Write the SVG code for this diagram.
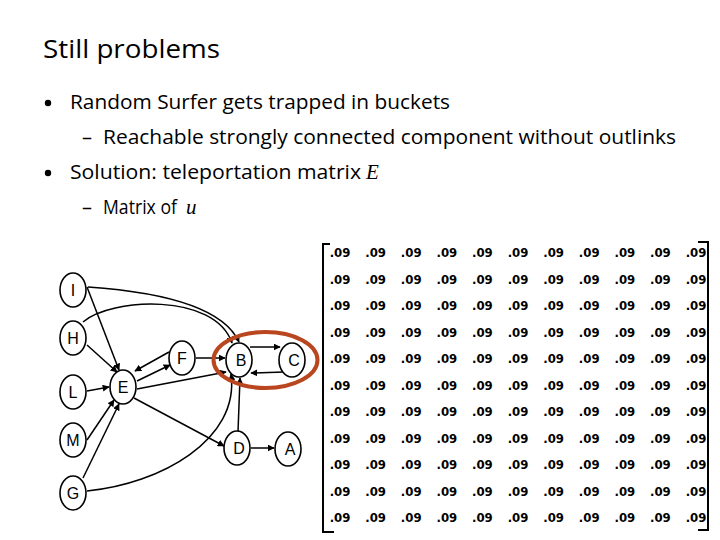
<svg xmlns="http://www.w3.org/2000/svg" xmlns:xlink="http://www.w3.org/1999/xlink" width="720" height="540" viewBox="0 0 720 540">
<style>
.title{font-family:"Open Sans","Liberation Sans",sans-serif;font-size:26px;fill:#000}
.body{font-family:"Open Sans","Liberation Sans",sans-serif;font-size:20px;fill:#000}
.math{font-family:"Liberation Serif",serif;font-style:italic;font-size:21px}
.node ellipse{fill:#fff;stroke:#000;stroke-width:1.6}
.node text{font-family:"Liberation Sans",Arial,sans-serif;font-size:16px;text-anchor:middle;fill:#000}
.edges path{fill:none;stroke:#000;stroke-width:1.5;marker-end:url(#arr)}
.m{font-family:"DejaVu Sans Condensed","DejaVu Sans",sans-serif;font-weight:bold;font-size:13px;text-anchor:middle;fill:#000}
.br{fill:none;stroke:#000;stroke-width:2}
</style>
<defs>
<marker id="arr" viewBox="0 0 10 10" refX="9" refY="5" markerWidth="7" markerHeight="7" markerUnits="userSpaceOnUse" orient="auto">
<path d="M0,0 L10,5 L0,10 z" fill="#000"/>
</marker>
<g id="row">
<text class="m" x="340">.09</text><text class="m" x="375.6">.09</text><text class="m" x="411.2">.09</text><text class="m" x="446.8">.09</text><text class="m" x="482.4">.09</text><text class="m" x="518">.09</text><text class="m" x="553.6">.09</text><text class="m" x="589.2">.09</text><text class="m" x="624.8">.09</text><text class="m" x="660.4">.09</text><text class="m" x="696">.09</text>
</g>
</defs>
<rect width="720" height="540" fill="#fff"/>
<text class="title" x="43" y="58" textLength="177" lengthAdjust="spacingAndGlyphs">Still problems</text>
<circle cx="48" cy="103" r="3.2" fill="#000"/>
<text class="body" x="70" y="109" textLength="380" lengthAdjust="spacingAndGlyphs">Random Surfer gets trapped in buckets</text>
<text class="body" x="82" y="144">–</text>
<text class="body" x="103" y="144" textLength="573" lengthAdjust="spacingAndGlyphs">Reachable strongly connected component without outlinks</text>
<circle cx="48" cy="173" r="3.2" fill="#000"/>
<text class="body" x="70" y="179" textLength="291" lengthAdjust="spacingAndGlyphs">Solution: teleportation matrix</text>
<text class="math" x="366" y="179">E</text>
<text class="body" x="82" y="214">–</text>
<text class="body" x="103" y="214" textLength="74" lengthAdjust="spacingAndGlyphs">Matrix of</text>
<text class="math" x="186" y="214">u</text>

<g class="edges">
<path d="M87,287 L119,370"/>
<path d="M88,287 Q218,296 239,342"/>
<path d="M83,322 C110,298 215,292 232,343"/>
<path d="M87,491 C160,484 240,440 231,374"/>
<path d="M87,345 L117,372"/>
<path d="M87,391 L109,387"/>
<path d="M87,440 L114,400"/>
<path d="M83,478 L119,404"/>
<path d="M137,381 L170,365"/>
<path d="M169,352 L135,371"/>
<path d="M137,389 L226,372"/>
<path d="M134,398 L224,446"/>
<path d="M196,358 L225,358"/>
<path d="M250,347 L280,347"/>
<path d="M284,372 L251,373"/>
<path d="M238,432 L240,378"/>
<path d="M251,448 L274,448"/>
</g>

<g id="I" class="node"><ellipse cx="73" cy="290" rx="13" ry="17"/><text x="73" y="296">I</text></g>
<g id="H" class="node"><ellipse cx="73" cy="338" rx="13" ry="17"/><text x="73" y="344">H</text></g>
<g id="L" class="node"><ellipse cx="73" cy="392" rx="13" ry="17"/><text x="73" y="398">L</text></g>
<g id="M" class="node"><ellipse cx="73" cy="440" rx="13" ry="17"/><text x="73" y="446">M</text></g>
<g id="G" class="node"><ellipse cx="73" cy="493" rx="13" ry="17"/><text x="73" y="499">G</text></g>
<g id="E" class="node"><ellipse cx="123" cy="387" rx="13" ry="17"/><text x="123" y="393">E</text></g>
<g id="F" class="node"><ellipse cx="182" cy="358" rx="13" ry="17"/><text x="182" y="364">F</text></g>
<g id="B" class="node"><ellipse cx="239" cy="360" rx="13" ry="17"/><text x="241" y="366">B</text></g>
<g id="C" class="node"><ellipse cx="292" cy="360" rx="13" ry="17"/><text x="294" y="366">C</text></g>
<g id="D" class="node"><ellipse cx="237" cy="448" rx="13" ry="17"/><text x="239" y="454">D</text></g>
<g id="A" class="node"><ellipse cx="288" cy="449" rx="13" ry="17"/><text x="290" y="455">A</text></g>
<ellipse id="bucket" cx="265.5" cy="360" rx="52" ry="28" fill="none" stroke="#b9461e" stroke-width="4"/>

<g id="matrix">
<path class="br" d="M330,244 L323,244 L323,532 L334,532"/>
<path class="br" d="M698,242 L708,242 L708,530 L698,530"/>
<use xlink:href="#row" y="257"/>
<use xlink:href="#row" y="283.5"/>
<use xlink:href="#row" y="310"/>
<use xlink:href="#row" y="336.5"/>
<use xlink:href="#row" y="363"/>
<use xlink:href="#row" y="389.5"/>
<use xlink:href="#row" y="416"/>
<use xlink:href="#row" y="442.5"/>
<use xlink:href="#row" y="469"/>
<use xlink:href="#row" y="495.5"/>
<use xlink:href="#row" y="522"/>
</g>
</svg>
